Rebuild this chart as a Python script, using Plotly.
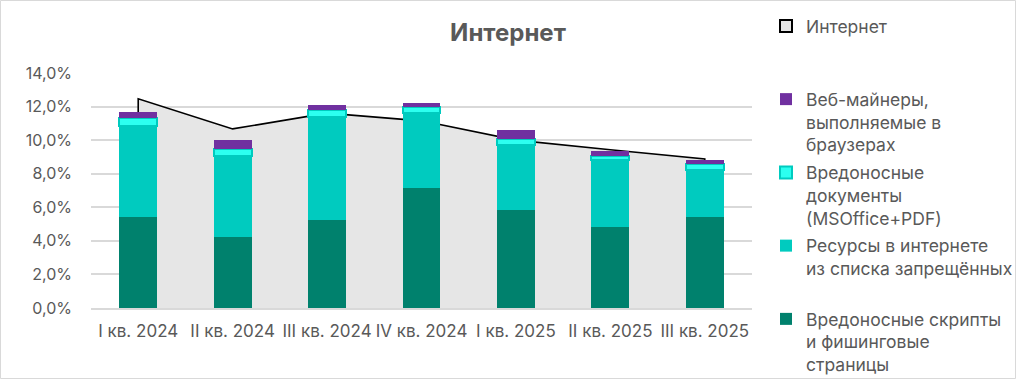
import plotly.graph_objects as go

categories = ["I кв. 2024", "II кв. 2024", "III кв. 2024", "IV кв. 2024",
              "I кв. 2025", "II кв. 2025", "III кв. 2025"]
internet_total = [12.46, 10.67, 11.61, 11.15, 10.00, 9.43, 8.88]
scripts_phishing = [5.41, 4.22, 5.24, 7.15, 5.83, 4.82, 5.41]
banned_resources = [5.44, 4.84, 6.16, 4.49, 3.88, 4.00, 2.81]
malicious_docs = [0.48, 0.41, 0.40, 0.36, 0.34, 0.24, 0.36]
web_miners = [0.35, 0.54, 0.30, 0.24, 0.56, 0.30, 0.24]
y_ticks = [0, 2, 4, 6, 8, 10, 12, 14]
y_tick_labels = ["0,0%", "2,0%", "4,0%", "6,0%", "8,0%", "10,0%", "12,0%", "14,0%"]

TXT = "#595959"
FONT = "Inter"
PAD = "<br>\u00a0"

fig = go.Figure()

# area (drawn on base axes so bars sit on top of it)
area_x = [categories[0]] + categories + [categories[-1]]
area_y = [0] + internet_total + [0]
fig.add_trace(go.Scatter(
    x=area_x, y=area_y, mode="lines", fill="tozeroy",
    fillcolor="#E6E6E6", line=dict(color="black", width=1.6),
    showlegend=False, hoverinfo="skip", xaxis="x", yaxis="y"))

bw = 0.4
fig.add_trace(go.Bar(
    x=categories, y=scripts_phishing, width=bw,
    name="Вредоносные скрипты<br>и фишинговые<br>страницы",
    marker=dict(color="#00816D", line=dict(width=0)),
    legendgroup="e", legendrank=5, xaxis="x2", yaxis="y2"))
fig.add_trace(go.Bar(
    x=categories, y=banned_resources, width=bw,
    name="Ресурсы в интернете<br>из списка запрещённых" + PAD,
    marker=dict(color="#00CBBF", line=dict(width=0)),
    legendgroup="d", legendrank=4, xaxis="x2", yaxis="y2"))
fig.add_trace(go.Bar(
    x=categories, y=malicious_docs, width=bw,
    name="Вредоносные<br>документы<br>(MSOffice+PDF)",
    marker=dict(color="#2CFFF0", line=dict(width=2, color="#00CBBF")),
    legendgroup="c", legendrank=3, xaxis="x2", yaxis="y2"))
fig.add_trace(go.Bar(
    x=categories, y=web_miners, width=bw,
    name="Веб-майнеры,<br>выполняемые в<br>браузерах",
    marker=dict(color="#7030A0", line=dict(width=0)),
    legendgroup="b", legendrank=2, xaxis="x2", yaxis="y2"))
# legend proxy for the area series
fig.add_trace(go.Bar(
    x=[categories[0]], y=[None], width=bw,
    name="Интернет" + PAD + PAD,
    marker=dict(color="#E6E6E6", line=dict(width=2, color="black")),
    legendgroup="a", legendrank=1, xaxis="x2", yaxis="y2", hoverinfo="skip"))

L, R, T, B = 91, 264, 73, 71
W, H = 1016, 379
pw, ph = W - L - R, H - T - B

legend = dict(xref="container", yref="container",
              x=(786 - 20) / W, xanchor="left", y=1 - 8 / H,
              yanchor="top", valign="top", traceorder="grouped",
              tracegroupgap=2, font=dict(size=17.5, color=TXT, family=FONT),
              bgcolor="rgba(0,0,0,0)", borderwidth=0)

fig.update_layout(
    width=W, height=H,
    margin=dict(l=L, r=R, t=T, b=B, pad=0, autoexpand=False),
    paper_bgcolor="white", plot_bgcolor="white",
    barmode="stack",
    font=dict(family=FONT, color=TXT, size=16),
    title=dict(text="<b>Интернет</b>", x=0.5, xanchor="center",
               y=1 - 33 / H, yanchor="middle",
               font=dict(size=24, color=TXT, family=FONT)),
    xaxis=dict(type="category", categoryorder="array", categoryarray=categories,
               range=[-0.5, 6.5], showgrid=False, showline=True,
               linecolor="#D9D9D9", linewidth=1.5, ticks="",
               ticklabelstandoff=7,
               tickfont=dict(size=17, color=TXT), fixedrange=True),
    yaxis=dict(range=[0, 14], tickvals=y_ticks, ticktext=y_tick_labels,
               showgrid=True, gridcolor="#D9D9D9", gridwidth=1.5,
               zeroline=False, showline=False, ticks="",
               ticklabelstandoff=18,
               tickfont=dict(size=16, color=TXT), fixedrange=True),
    xaxis2=dict(type="category", categoryorder="array", categoryarray=categories,
                range=[-0.5, 6.5], overlaying="x", visible=False),
    yaxis2=dict(range=[0, 14], overlaying="y", visible=False),
    shapes=[dict(type="rect", xref="paper", yref="paper",
                 x0=(0.5 - L) / pw, x1=(W - 0.5 - L) / pw,
                 y0=-(B - 0.5) / ph, y1=1 + (T - 0.5) / ph,
                 line=dict(color="#D9D9D9", width=1), layer="below")],
)

try:
    fig.update_layout(legend=dict(legend, maxheight=1))
except Exception:
    fig.update_layout(legend=legend)

fig.write_html("out.html", config={"displayModeBar": False},
               post_script="document.body.style.margin='0';document.body.style.padding='0';")
